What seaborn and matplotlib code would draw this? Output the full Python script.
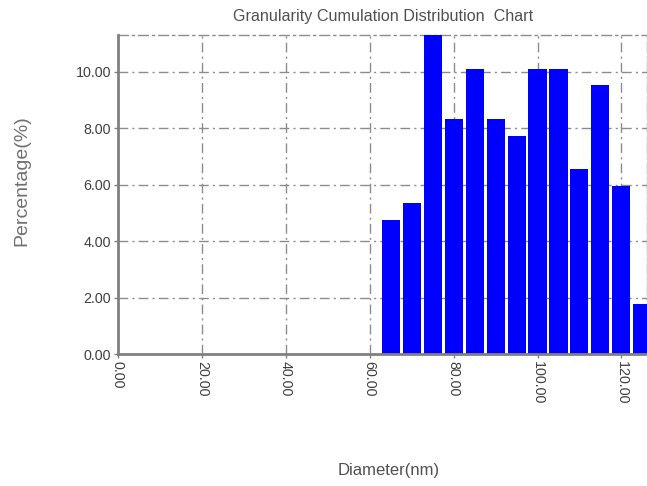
import matplotlib
matplotlib.use("Agg")
import matplotlib.pyplot as plt
import seaborn as sns
import pandas as pd

# Data
diameters = [65, 70, 75, 80, 85, 90, 95, 100, 105, 110, 115, 120, 125]
percentages = [4.76, 5.36, 11.31, 8.33, 10.12, 8.33, 7.74, 10.12, 10.12, 6.55, 9.52, 5.95, 1.79]
x_ticks = [0, 20, 40, 60, 80, 100, 120]
y_ticks = [0, 2, 4, 6, 8, 10]

sns.set_theme(style="white")
plt.rcParams['font.family'] = ['Liberation Sans', 'DejaVu Sans']

df = pd.DataFrame({"Diameter": diameters, "Percentage": percentages})

fig = plt.figure(figsize=(6.47, 4.86), dpi=100)
ax = fig.add_axes([118/647, 1 - 354/486, 1 - 118/647, (354 - 35)/486])

sns.barplot(data=df, x="Diameter", y="Percentage", native_scale=True,
            color="#0000ff", saturation=1, width=0.86, linewidth=0,
            errorbar=None, ax=ax, zorder=3)

ax.set_xlim(0, 126.1)
ax.set_ylim(0, 11.31)
ax.set_xticks(x_ticks)
ax.set_yticks(y_ticks)
ax.set_xticklabels([f"{v:.2f}" for v in x_ticks], rotation=-90, fontsize=10.3, color="#404040")
ax.set_yticklabels([f"{v:.2f}" for v in y_ticks], fontsize=10.3, color="#404040")

grid_dash = (0, (7, 3, 1.5, 3))
for v in x_ticks[1:]:
    ax.axvline(v, color="#8c8c8c", lw=1, linestyle=grid_dash, zorder=1)
for v in y_ticks[1:]:
    ax.axhline(v, color="#8c8c8c", lw=1, linestyle=grid_dash, zorder=1)

for s in ["left", "bottom"]:
    ax.spines[s].set_color("#808080")
    ax.spines[s].set_linewidth(2)
    ax.spines[s].set_zorder(5)
for s in ["top", "right"]:
    ax.spines[s].set_color("#8c8c8c")
    ax.spines[s].set_linewidth(1)
    ax.spines[s].set_linestyle(grid_dash)

ax.tick_params(axis="both", direction="out", length=3, width=1, color="#808080",
               left=True, bottom=True, pad=2)

ax.set_xlabel("")
ax.set_ylabel("")
fig.text(22/647, 1 - 181/486, "Percentage(%)", rotation=90, ha="center", va="center",
         fontsize=14, color="#707070")
fig.text(389/647, 1 - 470/486, "Diameter(nm)", ha="center", va="center",
         fontsize=12, color="#505050")
fig.text(383/647, 1 - 17/486, "Granularity Cumulation Distribution  Chart", ha="center",
         va="center", fontsize=11.6, color="#505050")

fig.savefig("out.png", dpi=100)
